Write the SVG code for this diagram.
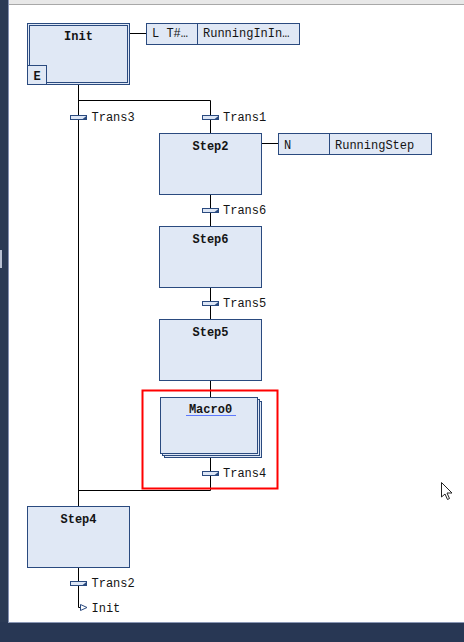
<svg xmlns="http://www.w3.org/2000/svg" width="464" height="642" viewBox="0 0 464 642">
<style>
.step{fill:#e0e8f5;stroke:#2a4a7f;stroke-width:1}
.act{fill:#e0e8f5;stroke:#2a4a7f;stroke-width:1}
.bar{fill:#dde6f5;stroke:#2a4a7f;stroke-width:1}
.barend{fill:#2a4a7f}
.wire{stroke:#000;stroke-width:1;fill:none}
.name{font-family:"Liberation Mono","DejaVu Sans Mono",monospace;font-size:12px;font-weight:bold;fill:#141414;text-anchor:middle}
.lbl{font-family:"Liberation Mono","DejaVu Sans Mono",monospace;font-size:12px;fill:#141414}
</style>
<rect x="0" y="0" width="464" height="642" fill="#ffffff"/>
<rect x="9" y="0" width="455" height="4" fill="#e8e8e8"/>
<rect x="9" y="4" width="455" height="1" fill="#a8a8a8"/>
<rect x="0" y="0" width="8" height="642" fill="#2b3a55"/>
<rect x="8" y="0" width="1" height="622" fill="#8591b2"/>
<rect x="0" y="250" width="2" height="18" fill="#b8c0d2"/>
<rect x="0" y="622" width="464" height="20" fill="#283754"/>
<rect x="8" y="622" width="456" height="1" fill="#8a97b5"/>

<g id="connectors">
<path class="wire" d="M78.5 84.5V506M78.5 100.5H210.5V133.5M129.5 33.5H146.5M261.5 143.5H278.5M210.5 194.5V226.5M210.5 287.5V319.5M210.5 380.5V397.5M210.5 457.5V490.5H78.5M78.5 567.5V607.5H80"/>
<path d="M80.5 604.5L87 607.5L80.5 610.5Z" fill="#ffffff" stroke="#2a4a7f" stroke-width="1"/>
<text class="lbl" x="91.5" y="612">Init</text>
</g>

<g id="init">
<rect class="step" x="27.5" y="23.5" width="102" height="61"/>
<rect class="step" x="29.5" y="25.5" width="98" height="57"/>
<rect class="step" x="27.5" y="65.5" width="19" height="19"/>
<text class="name" x="78.5" y="40">Init</text>
<text class="name" x="37" y="79.5">E</text>
</g>
<g id="init-action">
<rect class="act" x="146.5" y="23.5" width="153" height="21"/>
<line x1="197.5" y1="23.5" x2="197.5" y2="44.5" stroke="#2a4a7f"/>
<text class="lbl" x="152" y="37">L T#…</text>
<text class="lbl" x="203" y="37">RunningInIn…</text>
</g>

<g id="trans3">
<rect class="bar" x="70.5" y="115.5" width="16" height="4"/>
<path class="barend" d="M82 119.5L87 115.5V120Z"/>
<text class="lbl" x="91.5" y="121">Trans3</text>
</g>
<g id="trans1">
<rect class="bar" x="202.5" y="115.5" width="16" height="4"/>
<path class="barend" d="M214 119.5L219 115.5V120Z"/>
<text class="lbl" x="223" y="121">Trans1</text>
</g>

<g id="step2">
<rect class="step" x="159.5" y="133.5" width="102" height="61"/>
<text class="name" x="210.5" y="150">Step2</text>
</g>
<g id="step2-action">
<rect class="act" x="278.5" y="133.5" width="153" height="21"/>
<line x1="329.5" y1="133.5" x2="329.5" y2="154.5" stroke="#2a4a7f"/>
<text class="lbl" x="284" y="148.5">N</text>
<text class="lbl" x="335" y="148.5">RunningStep</text>
</g>

<g id="trans6">
<rect class="bar" x="202.5" y="208.5" width="16" height="4"/>
<path class="barend" d="M214 212.5L219 208.5V213Z"/>
<text class="lbl" x="223" y="214">Trans6</text>
</g>

<g id="step6">
<rect class="step" x="159.5" y="226.5" width="102" height="61"/>
<text class="name" x="210.5" y="243">Step6</text>
</g>

<g id="trans5">
<rect class="bar" x="202.5" y="301.5" width="16" height="4"/>
<path class="barend" d="M214 305.5L219 301.5V306Z"/>
<text class="lbl" x="223" y="307">Trans5</text>
</g>

<g id="step5">
<rect class="step" x="159.5" y="319.5" width="102" height="61"/>
<text class="name" x="210.5" y="336">Step5</text>
</g>

<g id="macro0">
<rect class="step" x="164.5" y="401.5" width="97" height="56"/>
<rect class="step" x="162.5" y="399.5" width="97" height="56"/>
<rect class="step" x="160.5" y="397.5" width="97" height="56"/>
<text class="name" x="210.5" y="413">Macro0</text>
<polyline points="186,415 187,416 188,415 189,416 190,415 191,416 192,415 193,416 194,415 195,416 196,415 197,416 198,415 199,416 200,415 201,416 202,415 203,416 204,415 205,416 206,415 207,416 208,415 209,416 210,415 211,416 212,415 213,416 214,415 215,416 216,415 217,416 218,415 219,416 220,415 221,416 222,415 223,416 224,415 225,416 226,415 227,416 228,415 229,416 230,415 231,416 232,415 233,416 234,415 235,416 236,415" fill="none" stroke="#3b5bff" stroke-width="0.8"/>
</g>

<g id="trans4">
<rect class="bar" x="202.5" y="471.5" width="16" height="4"/>
<path class="barend" d="M214 475.5L219 471.5V476Z"/>
<text class="lbl" x="223" y="477">Trans4</text>
</g>

<g id="selection">
<rect x="142.5" y="390.5" width="135" height="98" fill="none" stroke="#ff0000" stroke-width="2"/>
</g>

<g id="step4">
<rect class="step" x="27.5" y="506.5" width="102" height="61"/>
<text class="name" x="78.5" y="523">Step4</text>
</g>

<g id="trans2">
<rect class="bar" x="70.5" y="581.5" width="16" height="4"/>
<path class="barend" d="M82 585.5L87 581.5V586Z"/>
<text class="lbl" x="91.5" y="587">Trans2</text>
</g>

<g id="cursor">
<path d="M441.5 482.5V497L445 494L447.5 499.5L449.5 498.5L447 493H452Z" fill="#ffffff" stroke="#222" stroke-width="1" stroke-linejoin="round"/>
</g>
</svg>
